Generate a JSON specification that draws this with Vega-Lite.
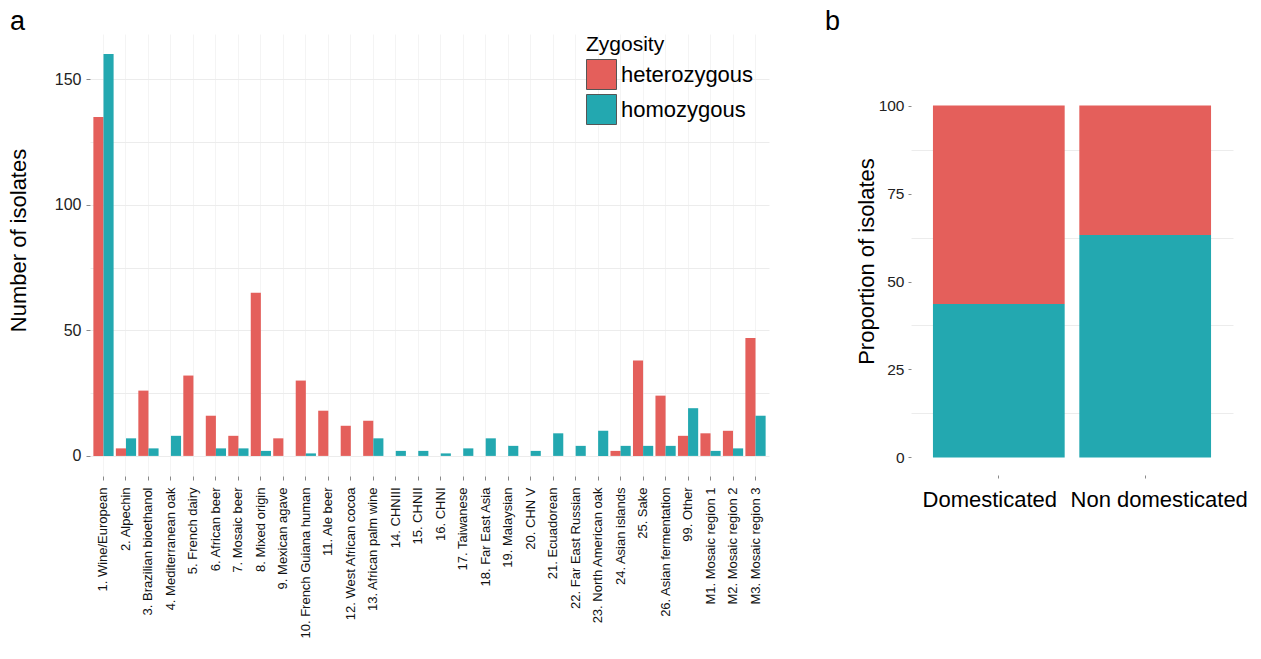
{
  "$schema": "https://vega.github.io/schema/vega-lite/v6.json",
  "background": "white",
  "padding": {"left": 7, "top": 8, "right": 5, "bottom": 5},
  "config": {
    "font": "Liberation Sans",
    "view": {"stroke": null},
    "axis": {"domain": false, "tickColor": "#8a8a8a", "labelColor": "#222222", "titleColor": "#000000", "titleFontWeight": "normal", "labelFont": "Liberation Sans", "titleFont": "Liberation Sans"},
    "legend": {"titleFontWeight": "normal"}
  },
  "datasets": {
    "counts": [
      {"population": "1. Wine/European", "zygosity": "heterozygous", "count": 135},
      {"population": "1. Wine/European", "zygosity": "homozygous", "count": 160},
      {"population": "2. Alpechin", "zygosity": "heterozygous", "count": 3},
      {"population": "2. Alpechin", "zygosity": "homozygous", "count": 7},
      {"population": "3. Brazilian bioethanol", "zygosity": "heterozygous", "count": 26},
      {"population": "3. Brazilian bioethanol", "zygosity": "homozygous", "count": 3},
      {"population": "4. Mediterranean oak", "zygosity": "heterozygous", "count": 0},
      {"population": "4. Mediterranean oak", "zygosity": "homozygous", "count": 8},
      {"population": "5. French dairy", "zygosity": "heterozygous", "count": 32},
      {"population": "5. French dairy", "zygosity": "homozygous", "count": 0},
      {"population": "6. African beer", "zygosity": "heterozygous", "count": 16},
      {"population": "6. African beer", "zygosity": "homozygous", "count": 3},
      {"population": "7. Mosaic beer", "zygosity": "heterozygous", "count": 8},
      {"population": "7. Mosaic beer", "zygosity": "homozygous", "count": 3},
      {"population": "8. Mixed origin", "zygosity": "heterozygous", "count": 65},
      {"population": "8. Mixed origin", "zygosity": "homozygous", "count": 2},
      {"population": "9. Mexican agave", "zygosity": "heterozygous", "count": 7},
      {"population": "9. Mexican agave", "zygosity": "homozygous", "count": 0},
      {"population": "10. French Guiana human", "zygosity": "heterozygous", "count": 30},
      {"population": "10. French Guiana human", "zygosity": "homozygous", "count": 1},
      {"population": "11. Ale beer", "zygosity": "heterozygous", "count": 18},
      {"population": "11. Ale beer", "zygosity": "homozygous", "count": 0},
      {"population": "12. West African cocoa", "zygosity": "heterozygous", "count": 12},
      {"population": "12. West African cocoa", "zygosity": "homozygous", "count": 0},
      {"population": "13. African palm wine", "zygosity": "heterozygous", "count": 14},
      {"population": "13. African palm wine", "zygosity": "homozygous", "count": 7},
      {"population": "14. CHNIII", "zygosity": "heterozygous", "count": 0},
      {"population": "14. CHNIII", "zygosity": "homozygous", "count": 2},
      {"population": "15. CHNII", "zygosity": "heterozygous", "count": 0},
      {"population": "15. CHNII", "zygosity": "homozygous", "count": 2},
      {"population": "16. CHNI", "zygosity": "heterozygous", "count": 0},
      {"population": "16. CHNI", "zygosity": "homozygous", "count": 1},
      {"population": "17. Taiwanese", "zygosity": "heterozygous", "count": 0},
      {"population": "17. Taiwanese", "zygosity": "homozygous", "count": 3},
      {"population": "18. Far East Asia", "zygosity": "heterozygous", "count": 0},
      {"population": "18. Far East Asia", "zygosity": "homozygous", "count": 7},
      {"population": "19. Malaysian", "zygosity": "heterozygous", "count": 0},
      {"population": "19. Malaysian", "zygosity": "homozygous", "count": 4},
      {"population": "20. CHN V", "zygosity": "heterozygous", "count": 0},
      {"population": "20. CHN V", "zygosity": "homozygous", "count": 2},
      {"population": "21. Ecuadorean", "zygosity": "heterozygous", "count": 0},
      {"population": "21. Ecuadorean", "zygosity": "homozygous", "count": 9},
      {"population": "22. Far East Russian", "zygosity": "heterozygous", "count": 0},
      {"population": "22. Far East Russian", "zygosity": "homozygous", "count": 4},
      {"population": "23. North American oak", "zygosity": "heterozygous", "count": 0},
      {"population": "23. North American oak", "zygosity": "homozygous", "count": 10},
      {"population": "24. Asian islands", "zygosity": "heterozygous", "count": 2},
      {"population": "24. Asian islands", "zygosity": "homozygous", "count": 4},
      {"population": "25. Sake", "zygosity": "heterozygous", "count": 38},
      {"population": "25. Sake", "zygosity": "homozygous", "count": 4},
      {"population": "26. Asian fermentation", "zygosity": "heterozygous", "count": 24},
      {"population": "26. Asian fermentation", "zygosity": "homozygous", "count": 4},
      {"population": "99. Other", "zygosity": "heterozygous", "count": 8},
      {"population": "99. Other", "zygosity": "homozygous", "count": 19},
      {"population": "M1. Mosaic region 1", "zygosity": "heterozygous", "count": 9},
      {"population": "M1. Mosaic region 1", "zygosity": "homozygous", "count": 2},
      {"population": "M2. Mosaic region 2", "zygosity": "heterozygous", "count": 10},
      {"population": "M2. Mosaic region 2", "zygosity": "homozygous", "count": 3},
      {"population": "M3. Mosaic region 3", "zygosity": "heterozygous", "count": 47},
      {"population": "M3. Mosaic region 3", "zygosity": "homozygous", "count": 16}
    ],
    "props": [
      {"group": "Domesticated", "zygosity": "homozygous", "proportion": 43.6},
      {"group": "Domesticated", "zygosity": "heterozygous", "proportion": 56.4},
      {"group": "Non domesticated", "zygosity": "homozygous", "proportion": 63.2},
      {"group": "Non domesticated", "zygosity": "heterozygous", "proportion": 36.8}
    ]
  },
  "spacing": 56,
  "hconcat": [
    {
      "width": 679,
      "height": 442,
      "title": {"text": "a", "anchor": "start", "frame": "group", "dx": -80, "dy": 27, "offset": 4, "fontSize": 27, "fontWeight": "normal", "baseline": "alphabetic", "color": "#000000"},
      "data": {"name": "counts"},
      "mark": {"type": "bar"},
      "encoding": {
        "x": {
          "field": "population", "type": "nominal", "sort": null,
          "scale": {"paddingInner": 0.1, "paddingOuter": 0.15},
          "axis": {"title": null, "labelAngle": 270, "labelFontSize": 13, "labelPadding": 7, "tickSize": 4, "grid": true, "gridColor": "#f4f4f4", "labelLimit": 300, "labelColor": "#111111"}
        },
        "xOffset": {"field": "zygosity", "sort": ["heterozygous", "homozygous"]},
        "y": {
          "field": "count", "type": "quantitative",
          "scale": {"domain": [-8, 168], "nice": false, "zero": false},
          "axis": {
            "title": "Number of isolates", "titleFontSize": 22, "titlePadding": 24, "titleY": 206,
            "values": [0, 25, 50, 75, 100, 125, 150],
            "labelExpr": "datum.value % 50 == 0 ? datum.label : ''",
            "tickOpacity": {"condition": {"test": "datum.value % 50 != 0", "value": 0}, "value": 1},
            "gridColor": "#ececec", "labelFontSize": 16, "tickSize": 4, "labelPadding": 5
          }
        },
        "color": {
          "field": "zygosity", "type": "nominal",
          "scale": {"domain": ["heterozygous", "homozygous"], "range": ["#E45F5B", "#23A8B0"]},
          "legend": {
            "title": "Zygosity", "orient": "none", "legendX": 496, "legendY": 0,
            "titleFontSize": 21, "titleColor": "#000000", "titlePadding": 4,
            "labelFontSize": 22, "labelColor": "#000000", "labelOffset": 4,
            "symbolType": "square", "symbolSize": 900, "symbolStrokeColor": "#555555", "symbolStrokeWidth": 1, "symbolOpacity": 1,
            "rowPadding": 0
          }
        }
      }
    },
    {
      "width": 322,
      "height": 441,
      "title": {"text": "b", "anchor": "start", "frame": "group", "dx": -86, "dy": 27, "offset": 4, "fontSize": 27, "fontWeight": "normal", "baseline": "alphabetic", "color": "#000000"},
      "data": {"name": "props"},
      "mark": {"type": "bar"},
      "encoding": {
        "x": {
          "field": "group", "type": "nominal", "sort": null,
          "scale": {"paddingInner": 0.1, "paddingOuter": 0.15},
          "axis": {
            "title": null, "labelAngle": 0, "labelFontSize": 22, "labelPadding": 11, "tickSize": 3, "grid": false, "labelColor": "#000000",
            "labelOffset": {"condition": {"test": "datum.value == 'Domesticated'", "value": -9}, "value": 14}
          }
        },
        "y": {
          "field": "proportion", "type": "quantitative", "stack": "zero",
          "scale": {"domain": [-5, 120.35], "nice": false, "zero": false},
          "axis": {
            "title": "Proportion of isolates", "titleFontSize": 22, "titlePadding": 0, "titleY": 227,
            "values": [0, 12.5, 25, 37.5, 50, 62.5, 75, 87.5, 100],
            "labelExpr": "datum.value % 25 == 0 ? datum.label : ''",
            "tickOpacity": {"condition": {"test": "datum.value % 25 != 0", "value": 0}, "value": 1},
            "gridOpacity": {"condition": {"test": "datum.value % 25 == 0", "value": 0}, "value": 1},
            "gridColor": "#ececec", "labelFontSize": 15.5, "tickSize": 3, "labelPadding": 4
          }
        },
        "color": {"field": "zygosity", "type": "nominal", "legend": null},
        "order": {"field": "zygosity", "sort": "descending"}
      }
    }
  ]
}
